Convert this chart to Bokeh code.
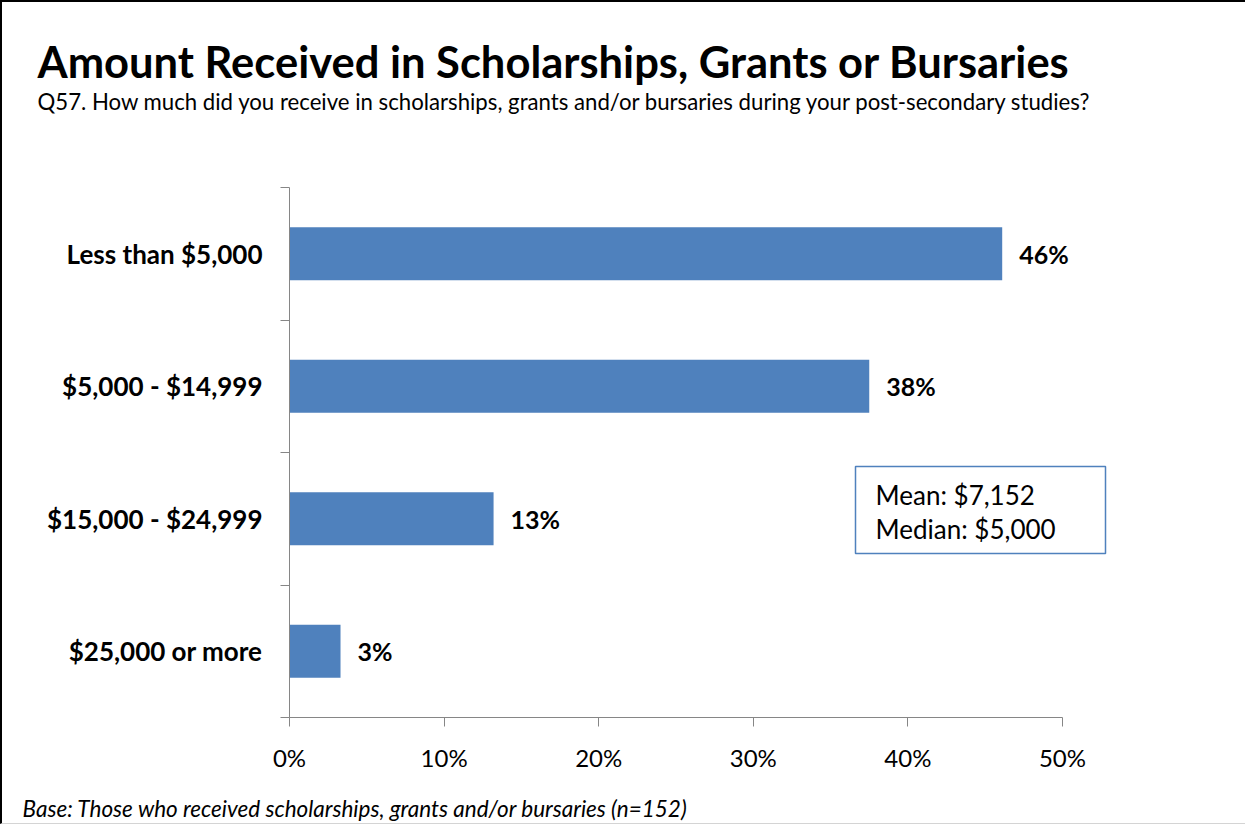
from bokeh.plotting import figure
from bokeh.models import FixedTicker, Label, LabelSet, ColumnDataSource, BoxAnnotation, Range1d
from bokeh.core.properties import value
from bokeh.embed import file_html
from bokeh.resources import INLINE

# ---- data ----
categories = ["Less than $5,000", "$5,000 - $14,999", "$15,000 - $24,999", "$25,000 or more"]
values = [46.1, 37.5, 13.2, 3.3]
value_labels = ["46%", "38%", "13%", "3%"]
x_ticks = [0, 10, 20, 30, 40, 50]
x_tick_labels = ["0%", "10%", "20%", "30%", "40%", "50%"]
title_text = "Amount Received in Scholarships, Grants or Bursaries"
subtitle_text = "Q57. How much did you receive in scholarships, grants and/or bursaries during your post-secondary studies?"
stats_lines = ["Mean: $7,152", "Median: $5,000"]
base_note = "Base:  Those who received scholarships, grants and/or bursaries (n=152)"

FONT = "Lato"
BAR = "#4F81BD"
AXIS = "#868686"

n = len(categories)
ypos = [n - i - 0.5 for i in range(n)]

# ---- layout (page pixels) ----
BL, BT = 2, 2                 # css border widths (left, top)
W, H = 1245, 824
X0_PX, X50_PX = 289, 1062     # page x of 0% and 50%
Y0_PX, YN_PX = 717, 187       # page y of bottom and top of category axis
kx = (x_ticks[-1] - x_ticks[0]) / (X50_PX - X0_PX)
ky = n / (Y0_PX - YN_PX)
x_range = Range1d((BL - X0_PX) * kx, (BL + W - X0_PX) * kx)
y_range = Range1d((Y0_PX - (BT + H)) * ky, (Y0_PX - BT) * ky)

p = figure(width=W, height=H, output_backend="svg", toolbar_location=None,
           x_range=x_range, y_range=y_range, min_border=0,
           styles={"border-top": "2px solid black", "border-left": "2px solid black",
                   "border-bottom": "1px solid #d4d4d4"})
p.outline_line_color = None
p.xgrid.visible = False
p.ygrid.visible = False
p.background_fill_color = "white"
p.border_fill_color = "white"

src = ColumnDataSource(dict(y=ypos, v=values, lab=value_labels, cat=categories))
p.hbar(y="y", right="v", left=0, height=0.4, source=src, color=BAR, line_color=None)

# value labels
p.add_layout(LabelSet(x="v", y="y", text="lab", source=src, x_offset=17,
                      text_baseline="middle", text_align="left",
                      text_font=value(FONT), text_font_style="bold", text_font_size="25px",
                      text_color="black"))

# x axis
xa = p.xaxis[0]
xa.fixed_location = 0
xa.ticker = FixedTicker(ticks=x_ticks)
xa.bounds = (x_ticks[0], x_ticks[-1])
xa.major_label_overrides = {t: l for t, l in zip(x_ticks, x_tick_labels)}
xa.axis_line_color = AXIS
xa.major_tick_line_color = AXIS
xa.major_tick_out = 9
xa.major_tick_in = 0
xa.minor_tick_line_color = None
xa.major_label_standoff = 16
xa.major_label_text_font = FONT
xa.major_label_text_font_size = "24px"
xa.major_label_text_color = "black"

# y axis
ya = p.yaxis[0]
ya.fixed_location = 0
ya.ticker = FixedTicker(ticks=ypos, minor_ticks=list(range(n + 1)))
ya.bounds = (0, n)
ya.major_label_overrides = {y: c for y, c in zip(ypos, categories)}
ya.axis_line_color = AXIS
ya.major_tick_line_color = None
ya.major_tick_out = 0
ya.major_tick_in = 0
ya.minor_tick_line_color = AXIS
ya.minor_tick_out = 9
ya.minor_tick_in = 0
ya.major_label_standoff = 18
ya.major_label_text_font = FONT
ya.major_label_text_font_style = "bold"
ya.major_label_text_font_size = "26px"
ya.major_label_text_color = "black"

# screen coords relative to frame (frame == whole canvas): origin bottom-left, y up
def sx(px):
    return px - BL

def sy(py):
    return (BT + H) - py

def add_text(x, y, text, size, style="normal", baseline="alphabetic"):
    p.add_layout(Label(x=sx(x), y=sy(y), x_units="screen", y_units="screen", text=text,
                       text_font=FONT, text_font_size=size, text_font_style=style,
                       text_baseline=baseline, text_align="left", text_color="black"))

add_text(37, 60, title_text, "43.5px", "bold")
add_text(37, 101, subtitle_text, "22.2px")
add_text(22, 808, base_note, "22.5px", "italic")

# stats box
p.add_layout(BoxAnnotation(left=sx(855), right=sx(1105), top=sy(466), bottom=sy(553),
                           left_units="screen", right_units="screen",
                           top_units="screen", bottom_units="screen",
                           fill_color="white", fill_alpha=1.0,
                           line_color=BAR, line_alpha=1.0, line_width=1.5))
for i, t in enumerate(stats_lines):
    add_text(875, 494 + 34 * i, t, "26px", baseline="middle")

open("out.html", "w").write(file_html(p, INLINE))
